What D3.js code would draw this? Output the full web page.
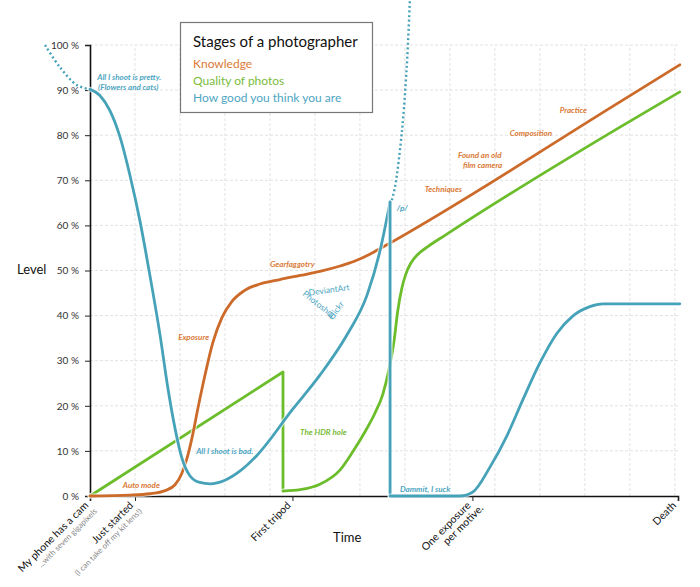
<!DOCTYPE html>
<html>
<head>
<meta charset="utf-8">
<script src="https://cdn.jsdelivr.net/npm/d3@7"></script>
<style>
  html, body { margin: 0; padding: 0; background: #fff; }
  svg { display: block; }
  text { font-family: Lato, "Open Sans", sans-serif; }
</style>
</head>
<body>
<svg id="chart" width="700" height="587"></svg>
<script>
// ---------- DATA ----------
const yTicks = [0, 10, 20, 30, 40, 50, 60, 70, 80, 90, 100];
const xTickPositions = [0, 1, 4.5, 8.5, 13.07];
const xTickLabels = ["My phone has a cam", "Just started", "First tripod", "One exposure", "Death"];
const xTickSubLabels = ["...with seven gigapixels", "(I can take off my kit lens!)", "", "per motive.", ""];
const xGridPositions = [1, 2, 3, 4, 5, 6, 7, 8, 9, 10, 11, 12, 13];

const seriesNames = ["Knowledge", "Quality of photos", "How good you think you are"];

// Knowledge [time, level %]
const knowledge = [
  [0, 0], [0.89, 0.2], [1.33, 0.5], [1.67, 1.2], [1.89, 2.5], [2.04, 5.0], [2.16, 8.5],
  [2.27, 13.0], [2.4, 19.5], [2.56, 27.0], [2.73, 34.0], [2.93, 39.5], [3.16, 43.2],
  [3.44, 45.6], [3.78, 47.0], [4.22, 48.0], [4.67, 48.9], [5.11, 49.8], [5.56, 51.0],
  [5.89, 52.1], [6.22, 53.6], [6.51, 55.2], [11.78, 87.4], [13.11, 95.6]
];

// Quality of photos: rise then drop into the HDR hole
const qualityRise = [[0, 0], [4.29, 27.5], [4.29, 1.1]];
const qualityRecover = [
  [4.29, 1.1], [4.67, 1.4], [5.11, 2.6], [5.56, 5.8], [5.84, 9.8], [6.11, 14.2],
  [6.33, 18.3], [6.51, 22.6], [6.64, 27.8], [6.76, 34.5], [6.84, 41.0], [6.93, 46.0],
  [7.02, 49.2], [7.13, 51.6], [7.29, 53.6], [7.51, 55.3], [7.89, 57.8], [11.78, 81.8],
  [13.11, 89.6]
];

// How good you think you are
const selfDotLeft = [[-1, 100], [-0.67, 95.1], [-0.29, 91.1], [0, 90.2]];
const selfFall = [
  [0, 90.2], [0.22, 88.8], [0.44, 85.5], [0.67, 79.5], [0.89, 71.0], [1.11, 61.0],
  [1.33, 49.0], [1.56, 35.5], [1.73, 24.0], [1.89, 15.0], [2.04, 8.5], [2.22, 4.5],
  [2.44, 3.0], [2.67, 2.7], [3.0, 3.5], [3.33, 5.5], [3.71, 9.0], [4.51, 19.3],
  [5.11, 26.8], [5.71, 35.7], [6.16, 44.6], [6.44, 54.1], [6.67, 65.2]
];
const selfDrop = [[6.67, 65.2], [6.67, 0]];
const selfDotUp = [[6.71, 65.6], [6.78, 68.5], [6.93, 80.5], [7.04, 95.1], [7.11, 110]];
const selfRecover = [
  [6.67, 0], [8.22, 0], [8.51, 0.9], [8.89, 6.4], [9.27, 13.4], [9.62, 21.3],
  [10.0, 29.5], [10.38, 36.1], [10.73, 39.9], [11.11, 42.0], [11.4, 42.6], [13.11, 42.6]
];

// Annotations [text, time, level, series index]
const annotations = [
  ["All I shoot is pretty.", 0.16, 92.3, 2],
  ["(Flowers and cats)", 0.18, 90.0, 2],
  ["Auto mode", 0.73, 1.8, 0],
  ["Exposure", 1.96, 34.6, 0],
  ["Gearfaggotry", 4.0, 50.8, 0],
  ["All I shoot is bad.", 2.36, 9.3, 2],
  ["The HDR hole", 4.67, 13.5, 1],
  ["/p/", 6.82, 63.2, 2],
  ["Techniques", 7.44, 67.4, 0],
  ["Found an old", 8.18, 74.9, 0],
  ["film camera", 8.29, 72.7, 0],
  ["Composition", 9.33, 79.8, 0],
  ["Practice", 10.44, 84.9, 0],
  ["Dammit, I suck", 6.89, 0.9, 2]
];
// rotated jumble [text, time, level, angle]
const jumble = [
  ["DeviantArt", 4.87, 44.4, -8],
  ["Photoshop", 4.71, 44.6, 38],
  ["Flickr", 5.38, 39.0, -52]
];

// ---------- STYLE ----------
const lineColors = ["#cc6a2a", "#6cbd2c", "#45a2b8"];
const textColors = ["#d97a38", "#79bb3a", "#4ea6c2"];

const svg = d3.select("#chart");
const x = d3.scaleLinear().domain([0, 13.07]).range([90, 678]);
const y = d3.scaleLinear().domain([0, 100]).range([496, 45]);

// grid
const grid = svg.append("g").attr("stroke", "#e2e2e2").attr("stroke-width", 1).attr("stroke-dasharray", "3,2");
grid.selectAll("line.h").data(yTicks.slice(1)).join("line")
  .attr("x1", x(0)).attr("x2", x(13.1)).attr("y1", d => y(d)).attr("y2", d => y(d));
grid.selectAll("line.v").data(xGridPositions).join("line")
  .attr("x1", d => x(d)).attr("x2", d => x(d)).attr("y1", y(0)).attr("y2", y(100));

// y axis
const yAxis = d3.axisLeft(y).tickValues(yTicks).tickSize(5).tickFormat(d => d + " %");
const yg = svg.append("g").attr("transform", `translate(${x(0)},0)`).call(yAxis);
yg.select(".domain").attr("stroke", "#111").attr("stroke-width", 1.6);
yg.selectAll(".tick line").attr("stroke", "#222");
yg.selectAll(".tick text").attr("font-size", 10).attr("fill", "#333").attr("x", -11)
  .style("font-family", "Lato, sans-serif");

// x axis
const xAxis = d3.axisBottom(x).tickValues(xTickPositions).tickSize(5).tickFormat("");
const xg = svg.append("g").attr("transform", `translate(0,${y(0)})`).call(xAxis);
xg.select(".domain").attr("stroke", "#111").attr("stroke-width", 1.6);
xg.selectAll(".tick line").attr("stroke", "#222");

// x tick labels, rotated
xTickPositions.forEach((t, i) => {
  const g = svg.append("g").attr("transform", `translate(${x(t) - 1},${y(0) + 10}) rotate(-45)`);
  g.append("text").attr("text-anchor", "end").attr("font-size", 10.5).attr("fill", "#111")
    .text(xTickLabels[i]);
  if (xTickSubLabels[i]) {
    const isGray = i < 2;
    g.append("text").attr("text-anchor", "end").attr("font-size", isGray ? 8 : 10.5)
      .attr("fill", isGray ? "#888" : "#111")
      .attr("x", isGray ? 2 : 7).attr("y", isGray ? 10 : 11)
      .text(xTickSubLabels[i]);
  }
});

// axis titles
svg.append("text").attr("x", 17).attr("y", 274).attr("font-size", 13).attr("fill", "#111").text("Level");
svg.append("text").attr("x", 333).attr("y", 542).attr("font-size", 13).attr("fill", "#111").text("Time");

// lines
const lineMono = d3.line().x(d => x(d[0])).y(d => y(d[1])).curve(d3.curveMonotoneX);
const lineLin = d3.line().x(d => x(d[0])).y(d => y(d[1]));
const lineCR = d3.line().x(d => x(d[0])).y(d => y(d[1])).curve(d3.curveCatmullRom.alpha(0.5));

function drawPath(data, gen, color) {
  svg.append("path").datum(data).attr("d", gen).attr("fill", "none")
    .attr("stroke", "#fff").attr("stroke-opacity", 0.7).attr("stroke-width", 5)
    .attr("stroke-linejoin", "round").attr("stroke-linecap", "round");
  svg.append("path").datum(data).attr("d", gen).attr("fill", "none")
    .attr("stroke", color).attr("stroke-width", 2.8)
    .attr("stroke-linejoin", "round").attr("stroke-linecap", "round");
}

drawPath(qualityRise, lineLin, lineColors[1]);
drawPath(qualityRecover, lineMono, lineColors[1]);
drawPath(knowledge, lineMono, lineColors[0]);
drawPath(selfFall, lineMono, lineColors[2]);
drawPath(selfDrop, lineLin, lineColors[2]);
drawPath(selfRecover, lineMono, lineColors[2]);

// dotted extensions
[selfDotLeft, selfDotUp].forEach(d => {
  svg.append("path").datum(d).attr("d", lineCR).attr("fill", "none")
    .attr("stroke", lineColors[2]).attr("stroke-width", 2.4).attr("stroke-dasharray", "2,2.6");
});

// annotations
svg.append("g").selectAll("text").data(annotations).join("text")
  .attr("x", d => x(d[1])).attr("y", d => y(d[2]))
  .attr("font-size", 8).attr("font-style", "italic").attr("font-weight", 700)
  .attr("fill", d => textColors[d[3]])
  .text(d => d[0]);

svg.append("g").selectAll("text").data(jumble).join("text")
  .attr("transform", d => `translate(${x(d[1])},${y(d[2])}) rotate(${d[3]})`)
  .attr("font-size", 8.5).attr("fill", textColors[2])
  .text(d => d[0]);

// legend
const lg = svg.append("g");
lg.append("rect").attr("x", 180.5).attr("y", 22.5).attr("width", 192).attr("height", 90)
  .attr("fill", "#fff").attr("stroke", "#777").attr("stroke-width", 1.2);
lg.append("text").attr("x", 193).attr("y", 47).attr("font-size", 15).attr("fill", "#111")
  .text("Stages of a photographer");
seriesNames.forEach((n, i) => {
  lg.append("text").attr("x", 193).attr("y", 68 + i * 17).attr("font-size", 12)
    .attr("fill", textColors[i]).text(n);
});
</script>
</body>
</html>
